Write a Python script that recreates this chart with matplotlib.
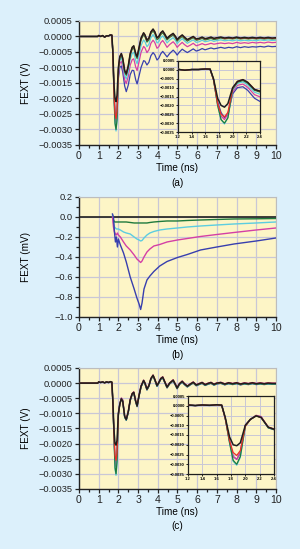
import numpy as np
import matplotlib
matplotlib.use("Agg")
import matplotlib.pyplot as plt
from matplotlib.ticker import MultipleLocator, FuncFormatter

plt.rcParams['font.family'] = ['Liberation Sans', 'DejaVu Sans']

# ---------------- data ----------------
# shared time grid (ns) for panels (a) and (c)
T = [0, 0.95, 1.0, 1.1, 1.2, 1.3, 1.4, 1.5, 1.6, 1.67,
     1.72, 1.78, 1.83, 1.88, 1.93, 2.0, 2.07, 2.15, 2.22, 2.32,
     2.4, 2.5, 2.6, 2.7, 2.78, 2.88, 2.95, 3.05, 3.15, 3.28,
     3.35, 3.45, 3.55, 3.65, 3.76, 3.85, 3.96, 4.05, 4.15, 4.25,
     4.35, 4.47, 4.6, 4.78, 4.9, 4.98, 5.1, 5.24, 5.35, 5.5,
     5.65, 5.8, 5.95, 6.1, 6.25, 6.4, 6.55, 6.7, 6.85, 7.0,
     7.2, 7.4, 7.6, 7.8, 8.0, 8.2, 8.4, 8.6, 8.8, 9.0,
     9.2, 9.4, 9.6, 9.8, 10.0]

# panel (a) black curve, in mV
a_black = [0, 0, 0.03, 0.0, 0.03, -0.02, 0.02, 0.02, 0.05, 0.04,
           -0.5, -1.6, -2.0, -2.1, -1.9, -1.0, -0.65, -0.55, -0.7, -1.1,
           -1.2, -0.95, -0.55, -0.35, -0.3, -0.55, -0.65, -0.35, -0.05, 0.12,
           0.05, -0.12, -0.05, 0.15, 0.24, 0.15, -0.04, 0.0, 0.12, 0.18,
           0.08, -0.06, 0.02, 0.1, 0.0, -0.1, -0.02, 0.05, -0.02, -0.1,
           -0.05, 0.0, -0.08, -0.06, -0.02, -0.07, -0.05, -0.02, -0.06, -0.04,
           -0.02, -0.05, -0.03, -0.05, -0.02, -0.05, -0.03, -0.05, -0.03, -0.05,
           -0.03, -0.05, -0.03, -0.05, -0.04]
# panel (a) offsets of the coloured curves from the black one, in mV
a_red_off = [0]*10 + [-0.05, -0.3, -0.5, -0.55, -0.5, -0.05, 0, 0, 0, 0] + [-0.01]*55
a_green_off = [0]*10 + [-0.05, -0.4, -0.8, -0.9, -0.8, -0.08, -0.05, -0.05, -0.05, -0.05,
                        -0.05, -0.05, -0.06, -0.06, -0.06, -0.06, -0.06, -0.06, -0.06, -0.06] \
    + [-0.06]*10 + [-0.05]*10 + [-0.04]*10 + [-0.03]*15
a_cyan_off = [0]*10 + [-0.05, -0.4, -0.8, -0.95, -0.8, -0.15, -0.12, -0.13, -0.15, -0.16,
                       -0.17, -0.18, -0.19, -0.2, -0.21, -0.22, -0.23, -0.24, -0.24, -0.23,
                       -0.22, -0.21, -0.2, -0.19, -0.18, -0.18, -0.17, -0.17, -0.16, -0.16,
                       -0.15, -0.15, -0.14, -0.14, -0.13, -0.13, -0.13, -0.12, -0.12, -0.12,
                       -0.11, -0.11, -0.11, -0.11, -0.1, -0.1, -0.1, -0.1, -0.1, -0.09] \
    + [-0.09]*10 + [-0.08]*5
a_magenta_off = [0]*10 + [-0.05, -0.3, -0.6, -0.7, -0.6, -0.25, -0.22, -0.25, -0.28, -0.3,
                          -0.32, -0.34, -0.37, -0.4, -0.42, -0.44, -0.45, -0.46, -0.46, -0.44,
                          -0.42, -0.4, -0.38, -0.37, -0.36, -0.35, -0.34, -0.33, -0.32, -0.31,
                          -0.3, -0.29, -0.28, -0.27, -0.26, -0.25, -0.25, -0.24, -0.24, -0.23,
                          -0.23, -0.22, -0.22, -0.21, -0.21, -0.2, -0.2, -0.2, -0.19, -0.19,
                          -0.19, -0.18, -0.18, -0.18, -0.17, -0.17, -0.17, -0.17, -0.16, -0.16,
                          -0.16, -0.16, -0.15, -0.15, -0.15]
a_blue_off = [0]*10 + [-0.05, -0.2, -0.4, -0.6, -0.6, -0.35, -0.35, -0.4, -0.45, -0.5,
                       -0.58, -0.62, -0.68, -0.74, -0.8, -0.85, -0.88, -0.92, -0.95, -0.9,
                       -0.85, -0.8, -0.78, -0.77, -0.76, -0.74, -0.72, -0.7, -0.68, -0.66,
                       -0.64, -0.6, -0.57, -0.54, -0.52, -0.5, -0.48, -0.46, -0.44, -0.42,
                       -0.41, -0.4, -0.39, -0.38, -0.37, -0.36, -0.35, -0.35, -0.34, -0.34,
                       -0.33, -0.33, -0.32, -0.32, -0.31, -0.31, -0.3, -0.3, -0.3, -0.29,
                       -0.29, -0.29, -0.28, -0.28, -0.28]

# panel (b): FEXT in mV
b_t_black = [0, 10]
b_black = [0, 0]
b_t = [1.7, 1.75, 1.8, 1.85, 1.9, 1.95, 2.0, 2.1, 2.26, 2.4, 2.6, 2.8, 2.94, 3.05, 3.13,
       3.2, 3.3, 3.45, 3.6, 3.8, 4.1, 4.47, 5.0, 5.5, 6.17, 7.0, 7.87, 9.0, 10.0]
b_green = [0.0, -0.03, -0.05, -0.05, -0.05, -0.05, -0.05, -0.05, -0.05, -0.05, -0.055, -0.06, -0.06, -0.06, -0.06,
           -0.06, -0.06, -0.06, -0.055, -0.05, -0.045, -0.04, -0.04, -0.035, -0.03, -0.025, -0.02, -0.018, -0.015]
b_cyan = [0.02, -0.06, -0.1, -0.11, -0.12, -0.12, -0.12, -0.13, -0.15, -0.16, -0.17, -0.2, -0.22, -0.23, -0.24,
          -0.235, -0.21, -0.18, -0.16, -0.145, -0.13, -0.12, -0.11, -0.1, -0.09, -0.08, -0.07, -0.06, -0.05]
b_magenta = [0.0, -0.1, -0.15, -0.17, -0.18, -0.16, -0.18, -0.2, -0.25, -0.29, -0.33, -0.38, -0.42, -0.44, -0.455,
             -0.44, -0.4, -0.35, -0.32, -0.29, -0.275, -0.25, -0.23, -0.215, -0.195, -0.175, -0.155, -0.13, -0.11]
b_blue = [0.03, 0.0, -0.15, -0.25, -0.2, -0.3, -0.22, -0.28, -0.36, -0.45, -0.6, -0.72, -0.81, -0.87, -0.925,
          -0.86, -0.72, -0.63, -0.59, -0.545, -0.49, -0.445, -0.405, -0.375, -0.33, -0.3, -0.27, -0.24, -0.21]

# panel (c) black curve, in mV
c_black = [0, 0, 0.04, 0.02, 0.04, 0.01, 0.04, 0.02, 0.05, 0.03,
           -0.6, -1.6, -2.0, -2.05, -1.9, -1.0, -0.7, -0.52, -0.6, -1.1,
           -1.2, -0.95, -0.55, -0.35, -0.3, -0.6, -0.75, -0.4, -0.1, 0.09,
           0.0, -0.2, -0.08, 0.15, 0.26, 0.12, -0.08, 0.02, 0.15, 0.2,
           0.05, -0.13, 0.0, 0.1, -0.05, -0.16, -0.02, 0.06, -0.02, -0.1,
           -0.03, 0.03, -0.06, -0.02, 0.02, -0.05, -0.01, 0.02, -0.04, 0.0,
           0.02, -0.03, 0.01, -0.02, 0.01, -0.03, 0.0, -0.02, 0.01, -0.02,
           0.0, -0.02, 0.0, -0.01, -0.01]
c_red_off = [0]*10 + [-0.05, -0.2, -0.4, -0.5, -0.4, -0.05, 0, 0, 0, 0] + [0]*55
c_green_off = [0]*10 + [-0.05, -0.3, -0.8, -0.95, -0.7, -0.05, 0, 0, 0, -0.03] + [-0.02]*55
c_cyan_off = [0]*10 + [-0.05, -0.3, -0.85, -1.0, -0.75, -0.05, 0, 0, 0, -0.03] + [-0.02]*55
c_magenta_off = [0]*10 + [-0.05, -0.2, -0.6, -0.7, -0.5, 0, 0, 0.03, 0.05, 0] + [0.01]*55
c_blue_off = [0]*10 + [-0.05, -0.2, -0.6, -0.7, -0.5, 0, 0, 0.02, 0.03, -0.03] + [-0.03]*55

# ---------------- style ----------------
FIG_BG = '#dcf0fb'
AX_BG = '#fdf5c6'
GRID = '#c9c7d6'
COL = {'black': '#1e1e1e', 'red': '#ec2f26', 'green': '#1f7a3c',
       'cyan': '#5ccde0', 'magenta': '#d43fa5', 'blue': '#383fae'}

fig = plt.figure(figsize=(3.0, 5.49), dpi=100, facecolor=FIG_BG)


def minus_fmt(fmt):
    return FuncFormatter(lambda v, p: (fmt % v).replace('-', '\u2212'))


def style_axes(ax, ylim, ymaj, yfmt, yminor=None):
    ax.set_facecolor(AX_BG)
    ax.set_xlim(0, 10)
    ax.set_ylim(*ylim)
    ax.xaxis.set_major_locator(MultipleLocator(1))
    ax.xaxis.set_minor_locator(MultipleLocator(0.5))
    ax.yaxis.set_major_locator(MultipleLocator(ymaj))
    if yminor:
        ax.yaxis.set_minor_locator(MultipleLocator(yminor))
    ax.yaxis.set_major_formatter(minus_fmt(yfmt))
    ax.grid(True, which='major', color=GRID, lw=0.9)
    ax.set_axisbelow(True)
    for s in ['top', 'right']:
        ax.spines[s].set_color('#bdbdbd')
        ax.spines[s].set_linewidth(0.8)
    for s in ['left', 'bottom']:
        ax.spines[s].set_color('#222222')
        ax.spines[s].set_linewidth(1.0)
    ax.tick_params(which='both', direction='out', colors='#222222', width=0.9)
    ax.tick_params(which='major', length=3, labelsize=6.7, pad=1.5)
    ax.tick_params(which='minor', length=2)
    ax.tick_params(axis='x', labelsize=7.6)
    ax.set_xlabel('Time (ns)', fontsize=7.2, labelpad=1)
    ax.yaxis.set_label_coords(-0.245, 0.5)


def style_inset(ax, xlim, ylim):
    ax.set_facecolor(AX_BG)
    ax.set_xlim(*xlim)
    ax.set_ylim(*ylim)
    ax.xaxis.set_major_locator(MultipleLocator(0.2))
    ax.yaxis.set_major_locator(MultipleLocator(0.0005))
    ax.xaxis.set_major_formatter(minus_fmt('%.1f'))
    ax.yaxis.set_major_formatter(minus_fmt('%.4f'))
    ax.grid(True, color=GRID, lw=0.7)
    ax.set_axisbelow(True)
    for s in ax.spines.values():
        s.set_color('#1e1e1e')
        s.set_linewidth(0.9)
    ax.tick_params(direction='out', length=1.5, width=0.6, labelsize=3.0, pad=0.8)
    for lab in ax.get_xticklabels() + ax.get_yticklabels():
        lab.set_fontweight('bold')


V = 1e-3  # mV -> V
order = ['blue', 'magenta', 'cyan', 'green', 'red']

# ---------------- panel (a) ----------------
ax_a = fig.add_axes([0.2633, 0.7359, 0.6567, 0.2259])
style_axes(ax_a, (-0.0035, 0.0005), 0.0005, '%.4f')
ax_a.set_ylabel('FEXT (V)', fontsize=7.2)
offs_a = {'blue': a_blue_off, 'magenta': a_magenta_off, 'cyan': a_cyan_off,
          'green': a_green_off, 'red': a_red_off}
ins_a = fig.add_axes([178/300, 1-132/549, 82/300, 71/549])
style_inset(ins_a, (1.2, 2.4), (-0.0035, 0.0005))
for ax in (ax_a, ins_a):
    for c in order:
        y = (np.array(a_black) + np.array(offs_a[c])) * V
        ax.plot(T, y, color=COL[c], lw=0.9, zorder=3)
    ax.plot(T, np.array(a_black) * V, color=COL['black'], lw=1.1, zorder=4)
fig.text(177/300, 1-183/549, '(a)', ha='center', va='center', fontsize=7.2)

# ---------------- panel (b) ----------------
ax_b = fig.add_axes([0.2633, 0.4226, 0.6567, 0.2186])
style_axes(ax_b, (-1.0, 0.2), 0.2, '%.1f', yminor=0.1)
ax_b.set_ylabel('FEXT (mV)', fontsize=7.2)
ax_b.plot(b_t_black, b_black, color=COL['black'], lw=1.2, zorder=3)
ax_b.plot(b_t, b_green, color=COL['green'], lw=1.0, zorder=3)
ax_b.plot(b_t, b_cyan, color=COL['cyan'], lw=1.0, zorder=3)
ax_b.plot(b_t, b_magenta, color=COL['magenta'], lw=1.0, zorder=3)
ax_b.plot(b_t, b_blue, color=COL['blue'], lw=1.0, zorder=3)
fig.text(177/300, 1-355/549, '(b)', ha='center', va='center', fontsize=7.2)

# ---------------- panel (c) ----------------
ax_c = fig.add_axes([0.2633, 0.1093, 0.6567, 0.2204])
style_axes(ax_c, (-0.0035, 0.0005), 0.0005, '%.4f')
ax_c.set_ylabel('FEXT (V)', fontsize=7.2)
offs_c = {'blue': c_blue_off, 'magenta': c_magenta_off, 'cyan': c_cyan_off,
          'green': c_green_off, 'red': c_red_off}
ins_c = fig.add_axes([188/300, 1-474/549, 86/300, 78/549])
style_inset(ins_c, (1.2, 2.4), (-0.0035, 0.0005))
for ax in (ax_c, ins_c):
    for c in order:
        y = (np.array(c_black) + np.array(offs_c[c])) * V
        ax.plot(T, y, color=COL[c], lw=0.9, zorder=3)
    ax.plot(T, np.array(c_black) * V, color=COL['black'], lw=1.1, zorder=4)
fig.text(177/300, 1-526/549, '(c)', ha='center', va='center', fontsize=7.2)

fig.savefig('out.png', dpi=100, facecolor=FIG_BG)
